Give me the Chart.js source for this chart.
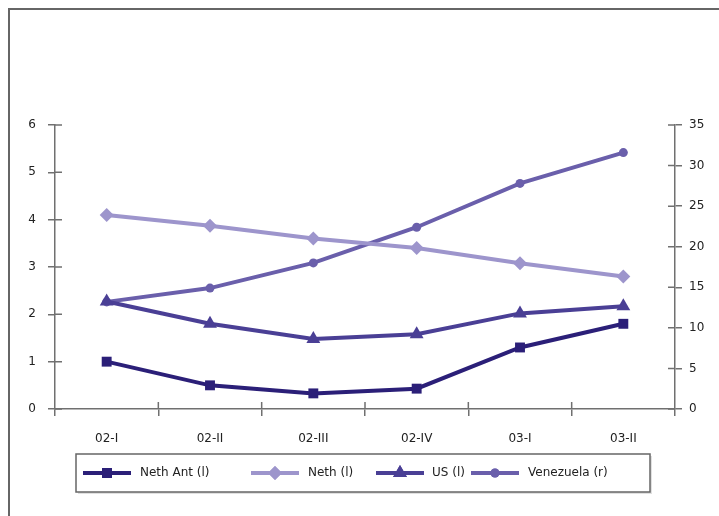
<!DOCTYPE html>
<html>
<head>
<meta charset="utf-8">
<script src="https://cdn.jsdelivr.net/npm/chart.js@4"></script>
<style>
  html, body { margin: 0; padding: 0; background: #fff; overflow: hidden; }
  #wrap { position: absolute; left: 0; top: 0; width: 719px; height: 516px; }
</style>
</head>
<body>
<div id="wrap"><canvas id="chart" width="719" height="516"></canvas></div>
<script>
// Datos
const quarters = ['02-I', '02-II', '02-III', '02-IV', '03-I', '03-II'];
const nethAnt = [1.0, 0.5, 0.33, 0.43, 1.3, 1.8];
const neth = [4.1, 3.87, 3.6, 3.4, 3.08, 2.8];
const us = [2.27, 1.8, 1.48, 1.58, 2.02, 2.17];
const venezuela = [13.2, 14.9, 18.0, 22.4, 27.8, 31.6];
const leftTicks = [0, 1, 2, 3, 4, 5, 6];
const rightTicks = [0, 5, 10, 15, 20, 25, 30, 35];

const FONT = { family: 'DejaVu Sans', size: 12 };
const AXIS_COLOR = '#707070';

// Marco exterior (solo bordes izquierdo y superior visibles)
const outerFrame = {
    id: 'outerFrame',
    beforeDraw(chart) {
        const { ctx } = chart;
        ctx.save();
        ctx.strokeStyle = '#666';
        ctx.lineWidth = 2;
        ctx.beginPath();
        ctx.moveTo(9, 516);
        ctx.lineTo(9, 9);
        ctx.lineTo(719, 9);
        ctx.stroke();
        ctx.restore();
    }
};

// Marcas que cruzan el eje (parte interior)
const innerTicks = {
    id: 'innerTicks',
    beforeDatasetsDraw(chart) {
        const { ctx, scales } = chart;
        ctx.save();
        ctx.strokeStyle = AXIS_COLOR;
        ctx.lineWidth = 1.5;
        ctx.beginPath();
        scales.y.ticks.forEach(t => {
            const py = scales.y.getPixelForValue(t.value);
            ctx.moveTo(scales.y.right, py);
            ctx.lineTo(scales.y.right + 7, py);
        });
        scales.y1.ticks.forEach(t => {
            const py = scales.y1.getPixelForValue(t.value);
            ctx.moveTo(scales.y1.left - 7, py);
            ctx.lineTo(scales.y1.left, py);
        });
        const x = scales.x;
        for (let i = 1; i < quarters.length; i++) {
            const px = (x.getPixelForValue(i - 1) + x.getPixelForValue(i)) / 2;
            ctx.moveTo(px, x.top - 7);
            ctx.lineTo(px, x.top);
        }
        ctx.stroke();
        ctx.restore();
    }
};

// Leyenda con recuadro
const boxLegend = {
    id: 'boxLegend',
    afterDraw(chart) {
        const { ctx } = chart;
        const items = [
            { sample: 83, text: 140 },
            { sample: 251, text: 308 },
            { sample: 376, text: 432 },
            { sample: 471, text: 528 }
        ];
        const cy = 473;
        ctx.save();
        ctx.fillStyle = 'rgba(0,0,0,0.12)';
        ctx.fillRect(78, 456, 574, 38);
        ctx.fillStyle = '#fff';
        ctx.fillRect(76, 454, 574, 38);
        ctx.strokeStyle = '#666';
        ctx.lineWidth = 1.5;
        ctx.strokeRect(76, 454, 574, 38);

        chart.data.datasets.forEach((ds, i) => {
            const it = items[i];
            ctx.strokeStyle = ds.borderColor;
            ctx.lineWidth = 4;
            ctx.beginPath();
            ctx.moveTo(it.sample, cy);
            ctx.lineTo(it.sample + 48, cy);
            ctx.stroke();
            ctx.fillStyle = ds.borderColor;
            Chart.helpers.drawPoint(ctx, {
                pointStyle: ds.pointStyle,
                radius: ds.pointRadius,
                rotation: 0,
                borderWidth: 0
            }, it.sample + 24, cy);
            ctx.fill();
            ctx.fillStyle = '#222';
            ctx.font = `${FONT.size}px "${FONT.family}"`;
            ctx.textBaseline = 'middle';
            ctx.fillText(ds.label, it.text, cy);
        });
        ctx.restore();
    }
};

function makeSet(label, data, color, style, radius, axis) {
    return {
        label: label,
        data: data,
        yAxisID: axis,
        borderColor: color,
        backgroundColor: color,
        borderWidth: 4,
        tension: 0,
        pointStyle: style,
        pointRadius: radius,
        pointHoverRadius: radius,
        pointBorderWidth: 0,
        pointBackgroundColor: color
    };
}

const ctx = document.getElementById('chart').getContext('2d');
new Chart(ctx, {
    type: 'line',
    data: {
        labels: quarters,
        datasets: [
            makeSet('Neth Ant (l)', nethAnt, '#2b1f78', 'rect', 7, 'y'),
            makeSet('Neth (l)', neth, '#9d95cc', 'rectRot', 7, 'y'),
            makeSet('US (l)', us, '#4a3f95', 'triangle', 8, 'y'),
            makeSet('Venezuela (r)', venezuela, '#6a5fab', 'circle', 4.5, 'y1')
        ]
    },
    options: {
        responsive: false,
        animation: false,
        layout: { padding: { top: 125, bottom: 60, left: 0, right: 0 } },
        plugins: {
            legend: { display: false },
            tooltip: { enabled: false }
        },
        scales: {
            x: {
                type: 'category',
                offset: true,
                grid: { offset: true, drawOnChartArea: false, tickLength: 7, color: AXIS_COLOR, lineWidth: 1.5 },
                border: { color: AXIS_COLOR, width: 1.5 },
                ticks: { color: '#222', font: FONT, padding: 16, maxRotation: 0 },
                afterFit: s => { s.height = 47; }
            },
            y: {
                position: 'left',
                min: 0,
                max: 6,
                afterBuildTicks: s => { s.ticks = leftTicks.map(v => ({ value: v })); },
                grid: { drawOnChartArea: false, tickLength: 7, color: AXIS_COLOR, lineWidth: 1.5 },
                border: { color: AXIS_COLOR, width: 1.5 },
                ticks: { color: '#222', font: FONT, padding: 12 },
                afterFit: s => { s.width = 55; }
            },
            y1: {
                position: 'right',
                min: 0,
                max: 35,
                afterBuildTicks: s => { s.ticks = rightTicks.map(v => ({ value: v })); },
                grid: { drawOnChartArea: false, tickLength: 7, color: AXIS_COLOR, lineWidth: 1.5 },
                border: { color: AXIS_COLOR, width: 1.5 },
                ticks: { color: '#222', font: FONT, padding: 7 },
                afterFit: s => { s.width = 44; }
            }
        }
    },
    plugins: [outerFrame, innerTicks, boxLegend]
});
</script>
</body>
</html>
